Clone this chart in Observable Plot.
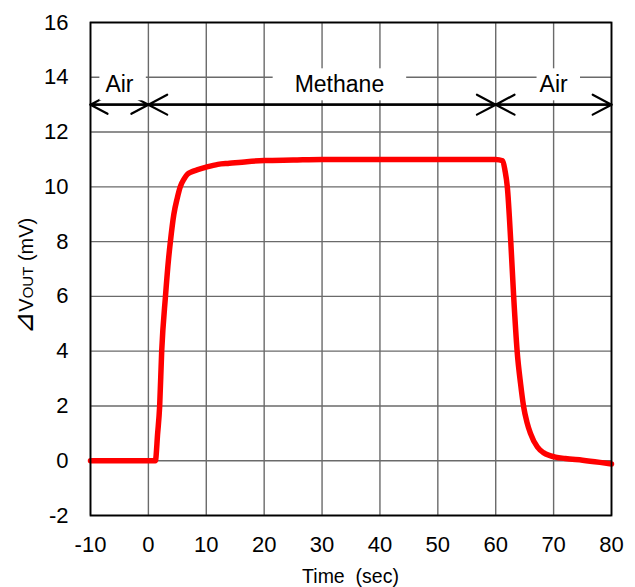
<!DOCTYPE html>
<html><head><meta charset="utf-8">
<script src="https://cdn.jsdelivr.net/npm/d3@7"></script>
<script src="https://cdn.jsdelivr.net/npm/@observablehq/plot@0.6"></script>
<style>body{margin:0;background:#fff}</style>
</head><body><div id="chart"></div>
<script>
// Time (sec)
const time = [-10, -5, 0, 1.2, 1.6, 1.95, 2.3, 2.95, 3.5, 3.8, 4.4, 5.0, 5.5, 6.2, 6.7, 7.5, 8.4, 10, 12, 14, 17, 20, 25, 30, 40, 50, 60, 61.2, 61.6, 62.0, 62.6, 63.1, 63.7, 64.3, 64.8, 65.4, 66.0, 67.2, 68.2, 69.5, 72, 75, 78, 80];
// ΔVout (mV)
const vout = [0, 0, 0, 0, 1.0, 2, 4, 6, 7.4, 8, 9, 9.6, 10, 10.3, 10.45, 10.55, 10.62, 10.72, 10.82, 10.86, 10.92, 10.96, 10.98, 11.0, 11.0, 11.0, 11.0, 10.95, 10.6, 10, 8, 6, 4, 2.8, 2, 1.4, 1.0, 0.5, 0.3, 0.18, 0.08, 0.02, -0.06, -0.12];

const xTicks = [-10, 0, 10, 20, 30, 40, 50, 60, 70, 80];
const yTicks = [-2, 0, 2, 4, 6, 8, 10, 12, 14, 16];

// gas phases
const spanLabel = ["Air", "Methane", "Air"];
const spanStart = [-10, 0, 60];
const spanEnd = [0, 60, 80];
const labelX = [-5, 33, 70];
const arrowLevel = 13;
const labelLevel = 13.72;

const curve = time.map((t, i) => ({t, v: vout[i]}));
const spans = spanLabel.map((label, i) => ({label, x1: spanStart[i], x2: spanEnd[i], xm: labelX[i], ya: arrowLevel, yl: labelLevel}));

const FONT = "Arial, 'Liberation Sans', sans-serif";
const gridStroke = "#6a6a6a";

const plot = Plot.plot({
  width: 635, height: 587,
  marginLeft: 90, marginRight: 24, marginTop: 22, marginBottom: 72,
  style: {fontFamily: FONT, background: "white", color: "black"},
  x: {domain: [-10, 80]},
  y: {domain: [-2, 16]},
  marks: [
    Plot.ruleX(xTicks, {stroke: gridStroke, strokeWidth: 1.4}),
    Plot.ruleY(yTicks, {stroke: gridStroke, strokeWidth: 1.4}),
    Plot.line(curve, {x: "t", y: "v", stroke: "#ff0000", strokeWidth: 5.5, curve: "monotone-x", strokeLinejoin: "round"}),
    Plot.frame({stroke: "black", strokeWidth: 1.8}),
    Plot.arrow(spans, {x1: "x1", x2: "x2", y1: "ya", y2: "ya", stroke: "black", strokeWidth: 2.2, headLength: 14.5, headAngle: 56}),
    Plot.arrow(spans, {x1: "x2", x2: "x1", y1: "ya", y2: "ya", stroke: "black", strokeWidth: 2.2, headLength: 14.5, headAngle: 56}),
    Plot.text(spans, {x: "xm", y: "yl", text: "label", fontSize: 23, fill: "black", lineAnchor: "middle"}),
    Plot.axisX({ticks: xTicks, tickSize: 0, tickPadding: 21, fontSize: 22, label: null, tickFormat: d => String(d)}),
    Plot.axisY({ticks: yTicks, tickSize: 0, tickPadding: 22, fontSize: 22, label: null, tickFormat: d => String(d)})
  ]
});

document.getElementById("chart").appendChild(plot);

const svg = d3.select(plot);
// white boxes behind phase labels
const padL = [6, 22, 3], padR = [12, 22, 12];
let k = 0;
svg.selectAll("text").each(function() {
  const txt = this.textContent;
  if (spanLabel.includes(txt) && k < spanLabel.length) {
    const b = this.getBBox();
    const node = this;
    const r = document.createElementNS("http://www.w3.org/2000/svg", "rect");
    r.setAttribute("x", b.x - padL[k]);
    r.setAttribute("y", b.y - 3);
    r.setAttribute("width", b.width + padL[k] + padR[k]);
    r.setAttribute("height", b.height + 6);
    r.setAttribute("fill", "white");
    if (node.getAttribute("transform")) r.setAttribute("transform", node.getAttribute("transform"));
    node.parentNode.insertBefore(r, node);
    k++;
  }
});

// x axis title
svg.append("text")
  .attr("x", (90 + 611) / 2).attr("y", 583)
  .attr("text-anchor", "middle")
  .attr("font-family", FONT).attr("font-size", 19.5).attr("fill", "black")
  .text("Time\u00A0\u00A0(sec)");

// y axis title
const yt = svg.append("text")
  .attr("transform", "translate(26,276) rotate(-90)")
  .attr("text-anchor", "middle").attr("dy", "0.35em")
  .attr("font-family", FONT).attr("font-size", 20).attr("fill", "black");
yt.append("tspan").attr("font-family", "'DejaVu Sans'").attr("font-size", 27).text("\u22BF");
yt.append("tspan").text("V");
yt.append("tspan").attr("font-size", 15).text("OUT");
yt.append("tspan").text("\u00A0(mV)");
</script>
</body></html>
